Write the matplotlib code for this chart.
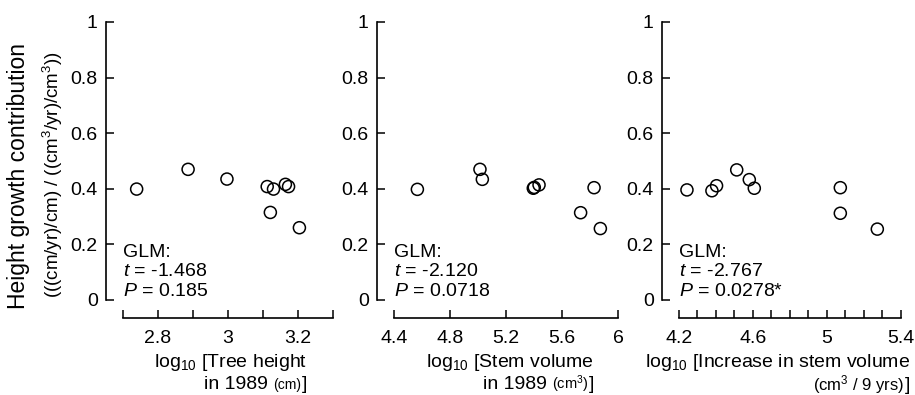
import numpy as np
import matplotlib
matplotlib.use('Agg')
import matplotlib.pyplot as plt

plt.rcParams['font.family'] = ['Liberation Sans', 'DejaVu Sans']
plt.rcParams['mathtext.fontset'] = 'custom'
plt.rcParams['mathtext.rm'] = 'Liberation Sans'
plt.rcParams['mathtext.it'] = 'Liberation Sans:italic'
plt.rcParams['mathtext.bf'] = 'Liberation Sans:bold'

# --- data ---
y_ticks = [0, 0.2, 0.4, 0.6, 0.8, 1.0]
y_ticklabels = ['0', '0.2', '0.4', '0.6', '0.8', '1']

# panel 1: tree height
height_x = [2.739, 2.886, 2.997, 3.112, 3.130, 3.121, 3.164, 3.173, 3.204]
height_y = [0.399, 0.470, 0.435, 0.408, 0.399, 0.315, 0.416, 0.408, 0.260]
height_ticks = [2.7, 2.8, 2.9, 3.0, 3.1, 3.2, 3.3]
height_ticklabels = ['', '2.8', '', '3', '', '3.2', '']

# panel 2: stem volume
volume_x = [4.567, 5.014, 5.031, 5.395, 5.402, 5.436, 5.733, 5.829, 5.874]
volume_y = [0.398, 0.470, 0.434, 0.402, 0.405, 0.414, 0.314, 0.404, 0.257]
volume_ticks = [4.4, 4.8, 5.2, 5.6, 6.0]
volume_ticklabels = ['4.4', '4.8', '5.2', '5.6', '6']

# panel 3: increase in stem volume
increase_x = [4.243, 4.378, 4.403, 4.512, 4.580, 4.607, 5.072, 5.072, 5.272]
increase_y = [0.396, 0.393, 0.411, 0.468, 0.433, 0.402, 0.404, 0.312, 0.255]
increase_ticks = [4.2, 4.3, 4.4, 4.5, 4.6, 4.7, 4.8, 4.9, 5.0, 5.1, 5.2, 5.3, 5.4]
increase_ticklabels = ['4.2', '', '', '', '4.6', '', '', '', '5', '', '', '', '5.4']

glm_t = ['-1.468', '-2.120', '-2.767']
glm_p = ['0.185', '0.0718', '0.0278*']

W, H = 915, 395
fig = plt.figure(figsize=(W / 100, H / 100), dpi=100)
renderer = fig.canvas.get_renderer()

# axis left px, axis right px, data, ticks
panels = [
    (106, 333, height_x, height_y, height_ticks, height_ticklabels),
    (377, 618, volume_x, volume_y, volume_ticks, volume_ticklabels),
    (662, 901, increase_x, increase_y, increase_ticks, increase_ticklabels),
]

top_px, bottom_px, zero_px = 22, 318, 300
y_low = -(bottom_px - zero_px) / (zero_px - top_px)

for i, (l_px, r_px, xs, ys, ticks, ticklabels) in enumerate(panels):
    ax = fig.add_axes([l_px / W, 1 - bottom_px / H, (r_px - l_px) / W,
                       (bottom_px - top_px) / H])
    x0, x1 = ticks[0], ticks[-1]
    gap = 17 / (r_px - l_px - 17) * (x1 - x0)
    ax.set_xlim(x0 - gap, x1)
    ax.set_ylim(y_low, 1.0)
    ax.scatter(xs, ys, s=75, facecolors='none', edgecolors='black',
               linewidths=1.1, clip_on=False, zorder=3)

    for side in ['top', 'right']:
        ax.spines[side].set_visible(False)
    ax.spines['left'].set_bounds(0, 1)
    ax.spines['bottom'].set_bounds(x0, x1)
    for side in ['left', 'bottom']:
        ax.spines[side].set_linewidth(1.2)

    ax.set_yticks(y_ticks)
    ax.set_yticklabels(y_ticklabels)
    ax.set_xticks(ticks)
    ax.set_xticklabels(ticklabels)
    ax.tick_params(direction='in', length=5.5, width=1.1, labelsize=14)
    ax.tick_params(axis='y', pad=6)
    ax.tick_params(axis='x', pad=8.5)
    ax.patch.set_visible(False)

    # GLM annotation
    ax.text(x0, 0.155, 'GLM:', fontsize=14, va='baseline', ha='left')
    ax.text(x0, 0.088, '$t$ = ' + glm_t[i], fontsize=14, va='baseline', ha='left')
    ax.text(x0, 0.0144, '$P$ = ' + glm_p[i], fontsize=14, va='baseline', ha='left')


def row(parts, x_right, y_base):
    # right aligned text built from pieces of different size
    x = x_right
    for s, size in reversed(parts):
        t = fig.text(x / W, 1 - y_base / H, s, fontsize=size, ha='right',
                     va='baseline')
        x -= t.get_window_extent(renderer).width


row([(r'log$_{10}$ [Tree height', 14)], 307, 367)
row([('in 1989 ', 14), ('(cm)', 10), (']', 14)], 307, 389)
row([(r'log$_{10}$ [Stem volume', 14)], 594, 367)
row([('in 1989 ', 14), (r'(cm$^{3}$)', 10.5), (']', 14)], 594, 389)
row([(r'log$_{10}$ [Increase in stem volume', 14)], 910, 367)
row([(r'(cm$^{3}$ / 9 yrs)', 12), (']', 14)], 910, 390)

fig.text(19 / W, 1 - 176 / H, 'Height growth contribution', fontsize=16.5,
         rotation=90, ha='center', va='center')
fig.text(53 / W, 1 - 175 / H, r'(((cm/yr)/cm) / ((cm$^{3}$/yr)/cm$^{3}$))',
         fontsize=13.5, rotation=90, ha='center', va='center')

fig.savefig('out.png', dpi=100)
